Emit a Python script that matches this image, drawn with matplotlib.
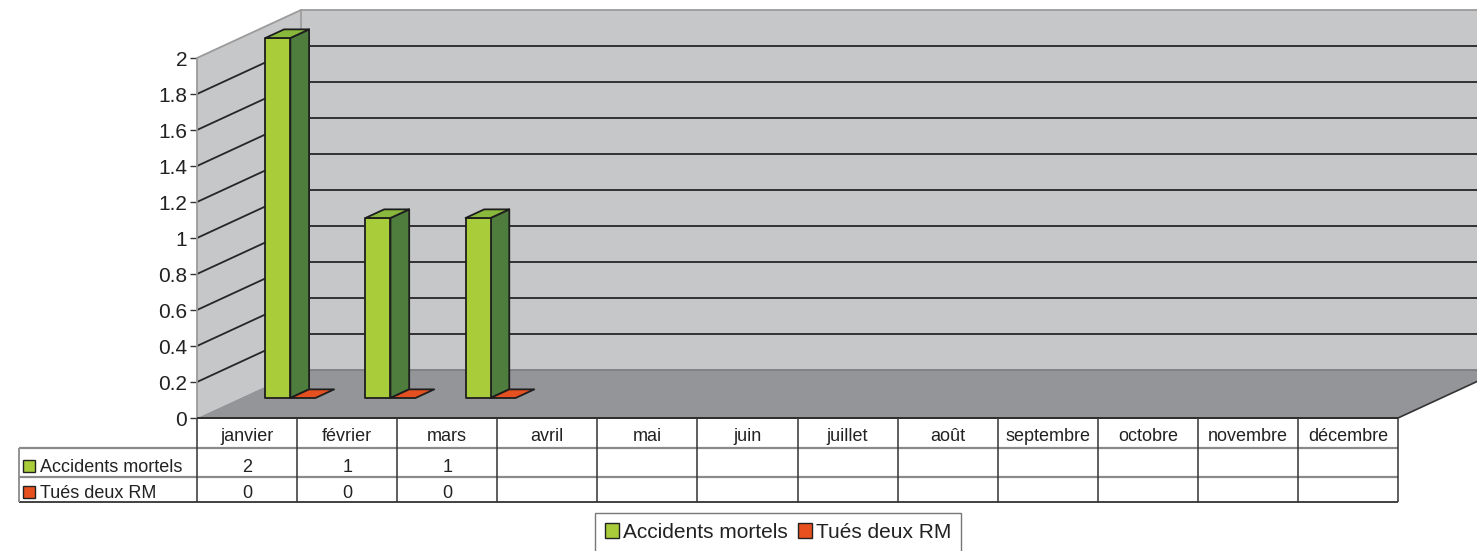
import numpy as np
import matplotlib
matplotlib.use('Agg')
import matplotlib.pyplot as plt
from matplotlib.patches import Polygon, Patch, Rectangle
from matplotlib.ticker import FuncFormatter

# ---------------- data ----------------
months = ['janvier', 'février', 'mars', 'avril', 'mai', 'juin', 'juillet',
          'août', 'septembre', 'octobre', 'novembre', 'décembre']
series_names = ['Accidents mortels', 'Tués deux RM']
accidents = [2, 1, 1, None, None, None, None, None, None, None, None, None]
tues = [0, 0, 0, None, None, None, None, None, None, None, None, None]
y_ticks = [0, 0.2, 0.4, 0.6, 0.8, 1.0, 1.2, 1.4, 1.6, 1.8, 2.0]

plt.rcParams['font.family'] = ['Liberation Sans', 'DejaVu Sans']

# ---------------- styles ----------------
W, H = 1477, 551
wall_col = '#c6c7c9'
floor_col = '#939598'
edge_gray = '#9b9b9b'
grid_col = '#262626'
dark = '#222222'
series_faces = [
    dict(front='#a9cc3a', side='#4e7d3e', top='#88b83c'),
    dict(front='#e8511f', side='#a8391a', top='#e4501f'),
]

fig = plt.figure(figsize=(W / 100, H / 100), dpi=100)
fig.patch.set_facecolor('white')
ax = fig.add_axes([197 / W, (H - 418) / H, (1398 - 197) / W, (418 - 58) / H])
ax.set_xlim(0, 12)
ax.set_ylim(0, 2)
for s in ax.spines.values():
    s.set_visible(False)
ax.patch.set_visible(False)

px_x = (1398 - 197) / 12.0   # pixels per category
px_y = 180.0                 # pixels per unit
DX = 104 / px_x
DY = 48 / px_y
XR = 14.5

def py(p):
    """pixel row (from top) -> data y"""
    return (418 - p) / px_y

def pxx(p):
    return (p - 197) / px_x

# walls
ax.add_patch(Polygon([(DX, DY), (DX, 2 + DY), (XR, 2 + DY), (XR, DY)],
                     closed=True, fc=wall_col, ec='none', clip_on=False, zorder=1))
ax.add_patch(Polygon([(0, 0), (0, 2), (DX, 2 + DY), (DX, DY)],
                     closed=True, fc=wall_col, ec='none', clip_on=False, zorder=1))
for v in y_ticks[1:-1]:
    ax.plot([0, DX, XR], [v, v + DY, v + DY], color=grid_col, lw=1.3,
            clip_on=False, zorder=1.5, solid_capstyle='butt')
ax.plot([0, 0, DX, XR], [0, 2, 2 + DY, 2 + DY], color=edge_gray, lw=1.3,
        clip_on=False, zorder=1.6)
ax.plot([DX, DX], [DY, 2 + DY], color=edge_gray, lw=1.2, clip_on=False, zorder=1.6)

# floor
ax.add_patch(Polygon([(0, 0), (12, 0), (12 + DX, DY), (DX, DY)],
                     closed=True, fc=floor_col, ec='none', clip_on=False, zorder=2))
ax.plot([DX, XR], [DY, DY], color='#7d7e80', lw=1.3, clip_on=False, zorder=2.1)
ax.plot([12, 12 + DX], [0, DY], color='#333333', lw=1.2, clip_on=False, zorder=2.1)

# bars
d0, t = 0.4167, 0.18
bw = 0.25

def draw_box(x0, h, faces):
    ox, oy = d0 * DX, d0 * DY
    tx, ty = t * DX, t * DY
    kw = dict(closed=True, ec='#1e1e1e', lw=1.3, clip_on=False, zorder=3,
              joinstyle='round')
    top = [(x0 + ox, oy + h), (x0 + bw + ox, oy + h),
           (x0 + bw + ox + tx, oy + h + ty), (x0 + ox + tx, oy + h + ty)]
    if h > 0:
        side = [(x0 + bw + ox, oy), (x0 + bw + ox + tx, oy + ty),
                (x0 + bw + ox + tx, oy + h + ty), (x0 + bw + ox, oy + h)]
        front = [(x0 + ox, oy), (x0 + bw + ox, oy),
                 (x0 + bw + ox, oy + h), (x0 + ox, oy + h)]
        ax.add_patch(Polygon(side, fc=faces['side'], **kw))
        ax.add_patch(Polygon(front, fc=faces['front'], **kw))
    ax.add_patch(Polygon(top, fc=faces['top'], **kw))

for i in range(len(months)):
    for j, vals in enumerate([accidents, tues]):
        v = vals[i]
        if v is None:
            continue
        draw_box(i + 0.25 + bw * j, v, series_faces[j])

# y axis ticks
ax.set_yticks(y_ticks)
ax.yaxis.set_major_formatter(FuncFormatter(lambda v, p: '%g' % v))
ax.tick_params(axis='y', length=5, width=1, color='#333333', pad=2,
               labelsize=15, labelcolor=dark)
ax.set_xticks([])

# ---------------- table ----------------
y_hdr, y_r1, y_r2 = py(448), py(477), py(502)
xl = pxx(19)
lkw = dict(clip_on=False, zorder=4, solid_capstyle='butt')
ax.plot([0, 12], [0, 0], color='#2b2b2b', lw=1.4, **lkw)
ax.plot([xl, 12], [y_hdr, y_hdr], color='#8a8a8a', lw=1.6, **lkw)
ax.plot([xl, 12], [y_r1, y_r1], color='#8a8a8a', lw=1.6, **lkw)
ax.plot([xl, 12], [y_r2, y_r2], color='#333333', lw=1.3, **lkw)
ax.plot([xl, xl], [y_hdr, y_r2], color='#8a8a8a', lw=1.3, **lkw)
for k in range(13):
    ax.plot([k, k], [0, y_r2], color='#333333', lw=1.1, **lkw)

tkw = dict(fontsize=13, color=dark, ha='center', va='baseline', clip_on=False)
for i, m in enumerate(months):
    ax.text(i + 0.5, py(441), m, **tkw)
    if accidents[i] is not None:
        ax.text(i + 0.5, py(472), '%g' % accidents[i], **tkw)
    if tues[i] is not None:
        ax.text(i + 0.5, py(497.5), '%g' % tues[i], **tkw)

for j, (name, base) in enumerate(zip(series_names, [472, 497.5])):
    ax.add_patch(Rectangle((pxx(23), py(base)), 12 / px_x, 12 / px_y,
                           fc=series_faces[j]['front'], ec='#222222', lw=1.0,
                           clip_on=False, zorder=5))
    ax.text(pxx(40), py(base), name, fontsize=13, color=dark, ha='left',
            va='baseline', clip_on=False)

# ---------------- legend ----------------
handles = [Patch(fc=series_faces[j]['front'], ec='#222222', lw=1.0)
           for j in range(2)]
leg = ax.legend(handles, series_names, loc='upper left',
                bbox_to_anchor=(595 / W, 1 - 513 / H), bbox_transform=fig.transFigure,
                ncol=2, fontsize=15, frameon=True, fancybox=False,
                edgecolor='#555555', borderpad=0.47, handlelength=0.67,
                handleheight=0.67, handletextpad=0.2, columnspacing=0.5,
                borderaxespad=0)
leg.get_frame().set_linewidth(1.0)
for txt in leg.get_texts():
    txt.set_color(dark)

fig.savefig('out.png', dpi=100, facecolor='white')
